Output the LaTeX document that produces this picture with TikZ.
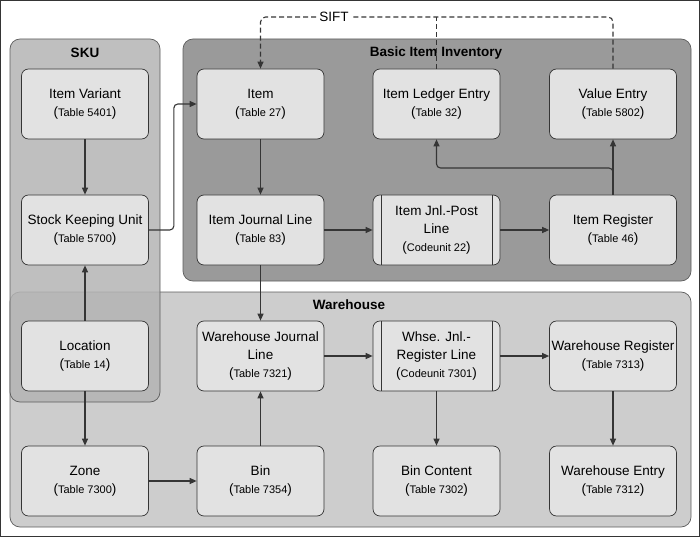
\documentclass[tikz,border=0pt]{standalone}
\usepackage{fontspec}
\setmainfont{Liberation Sans}
\usepackage{tikz}
\usetikzlibrary{arrows.meta,positioning}

\definecolor{lineclr}{HTML}{353535}
\definecolor{boxclr}{HTML}{E2E2E2}
\definecolor{skuclr}{HTML}{B4B4B4}
\definecolor{invclr}{HTML}{9A9A9A}
\definecolor{whseclr}{HTML}{CDCDCD}

\tikzstyle{arrow} = [line width=1.1pt,draw=lineclr,-{Triangle[length=7pt,width=6pt]}]
\tikzstyle{sift} = [line width=1.1pt,draw=lineclr,dash pattern=on 5pt off 3pt,rounded corners=5pt]
\tikzstyle{tbox} = [draw=lineclr,line width=0.7pt,fill=boxclr,rounded corners=7pt,
    minimum width=127pt,minimum height=70pt,align=center,inner sep=1pt,
    font=\fontsize{13.5}{18}\selectfont]
\tikzstyle{codebox} = [tbox,path picture={
    \draw[lineclr,line width=0.7pt]
        ([xshift=8pt]path picture bounding box.north west) -- ([xshift=8pt]path picture bounding box.south west)
        ([xshift=-8pt]path picture bounding box.north east) -- ([xshift=-8pt]path picture bounding box.south east);}]
\tikzstyle{group} = [draw=lineclr!80,line width=0.7pt,rounded corners=10pt]
\tikzstyle{grptitle} = [font=\bfseries\fontsize{13.5}{16}\selectfont]

\newcommand{\tbl}[1]{{\fontsize{13.5}{18}\selectfont(}{\fontsize{11}{18}\selectfont #1}{\fontsize{13.5}{18}\selectfont)}}

\begin{document}
\begin{tikzpicture}[x=1pt,y=-1pt]

        \useasboundingbox (0,0) rectangle (700,537);
        \draw[lineclr,line width=1pt] (0.5,0.5) rectangle (699.5,536.5);

        % Group areas
        \draw[group,fill=whseclr] (10,292) rectangle (691,527);
        \draw[group,fill=invclr] (183,39) rectangle (691,281);
        \draw[group,fill=skuclr,fill opacity=0.85] (10,39) rectangle (160,402);

        \node[grptitle] (skutitle) at (85,53) {SKU};
        \node[grptitle] (invtitle) at (436,53) {Basic Item Inventory};
        \node[grptitle] (whsetitle) at (349,305) {Warehouse};

        % SKU
        \node[tbox] (variant) at (85,104) {Item Variant\\\tbl{Table 5401}};
        \node[tbox] (sku) at (85,230) {Stock Keeping Unit\\\tbl{Table 5700}};
        \node[tbox] (location) at (85,356) {Location\\\tbl{Table 14}};

        % Basic Item Inventory
        \node[tbox] (item) at (260.5,104) {Item\\\tbl{Table 27}};
        \node[tbox] (ledger) at (436.5,104) {Item Ledger Entry\\\tbl{Table 32}};
        \node[tbox] (value) at (613,104) {Value Entry\\\tbl{Table 5802}};
        \node[tbox] (jnlline) at (260.5,230) {Item Journal Line\\\tbl{Table 83}};
        \node[codebox] (postline) at (436.5,230) {Item Jnl.-Post\\Line\\\tbl{Codeunit 22}};
        \node[tbox] (register) at (613,230) {Item Register\\\tbl{Table 46}};

        % Warehouse
        \node[tbox] (whsejnl) at (260.5,356) {Warehouse Journal\\Line\\\tbl{Table 7321}};
        \node[codebox] (whsepost) at (436.5,356) {Whse. Jnl.-\\Register Line\\\tbl{Codeunit 7301}};
        \node[tbox] (whsereg) at (613,356) {Warehouse Register\\\tbl{Table 7313}};
        \node[tbox] (zone) at (85,481) {Zone\\\tbl{Table 7300}};
        \node[tbox] (bin) at (260.5,481) {Bin\\\tbl{Table 7354}};
        \node[tbox] (bincontent) at (436.5,481) {Bin Content\\\tbl{Table 7302}};
        \node[tbox] (whseentry) at (613,481) {Warehouse Entry\\\tbl{Table 7312}};

        % SIFT link
        \node[font=\fontsize{13.5}{16}\selectfont,inner sep=3pt] (siftlabel) at (334,17) {SIFT};
        \draw[sift] (value.north) |- (siftlabel.east);
        \draw[sift,-{Triangle[length=7pt,width=6pt]}] (siftlabel.west) -| (item.north);
        \draw[sift] (ledger.north) -- (ledger.north |- siftlabel);

        % Connectors
        \draw[arrow] (variant) -- (sku);
        \draw[arrow] (location) -- (sku);
        \draw[arrow] (location) -- (zone);
        \draw[arrow] (zone) -- (bin);
        \draw[arrow] (bin) -- (whsejnl);
        \draw[arrow,rounded corners=4pt] (sku.east) -- ++(25,0) |- (item.west);
        \draw[arrow] (item) -- (jnlline);
        \draw[arrow] (jnlline) -- (postline);
        \draw[arrow] (postline) -- (register);
        \draw[arrow] (register) -- (value);
        \coordinate (split) at (613,168);
        \draw[arrow,rounded corners=4pt] (register.north) -- (split) -| (ledger.south);
        \draw[arrow] (jnlline) -- (whsejnl);
        \draw[arrow] (whsejnl) -- (whsepost);
        \draw[arrow] (whsepost) -- (whsereg);
        \draw[arrow] (whsepost) -- (bincontent);
        \draw[arrow] (whsereg) -- (whseentry);

\end{tikzpicture}
\end{document}
